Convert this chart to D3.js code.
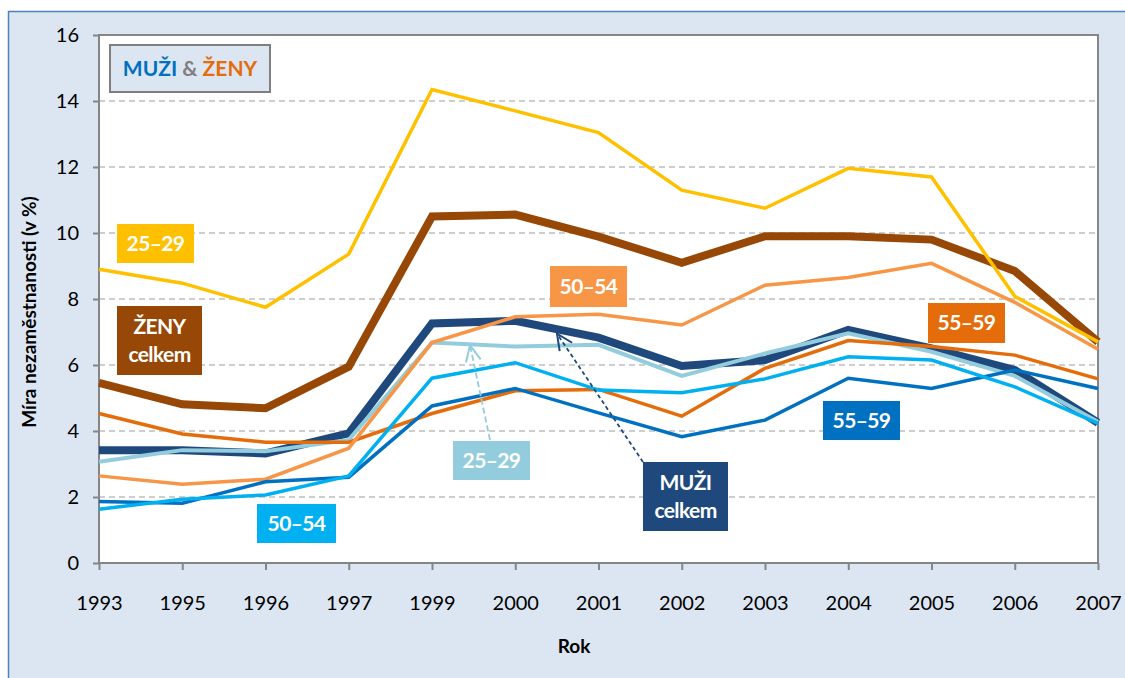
<!DOCTYPE html>
<html lang="cs">
<head>
<meta charset="utf-8">
<title>Míra nezaměstnanosti</title>
<script src="https://d3js.org/d3.v7.min.js"></script>
<style>
  body { margin: 0; background: #fff; }
  svg text { font-family: Lato, "Open Sans", sans-serif; }
  .grid line { stroke: #bfbfbf; stroke-width: 1.5px; stroke-dasharray: 6,4; }
  .axis path, .axis line { stroke: #868686; stroke-width: 2px; }
  .axis text { font-size: 20px; fill: #000; }
  .lbl text { fill: #fff; font-weight: bold; font-size: 21px; letter-spacing: -0.6px; }
</style>
</head>
<body>
<div id="chart"></div>
<script>
var years = ["1993","1995","1996","1997","1999","2000","2001","2002","2003","2004","2005","2006","2007"];
var yTicks = [0, 2, 4, 6, 8, 10, 12, 14, 16];

var zenyCelkem = [5.46, 4.81, 4.69, 5.95, 10.5, 10.56, 9.89, 9.1, 9.9, 9.9, 9.8, 8.85, 6.7];
var zeny2529   = [8.9, 8.48, 7.75, 9.36, 14.35, 13.7, 13.04, 11.3, 10.75, 11.96, 11.7, 8.08, 6.7];
var zeny5054   = [2.64, 2.39, 2.54, 3.48, 6.68, 7.46, 7.54, 7.21, 8.42, 8.65, 9.08, 7.9, 6.48];
var zeny5559   = [4.53, 3.91, 3.66, 3.66, 4.53, 5.22, 5.26, 4.45, 5.9, 6.74, 6.56, 6.3, 5.58];
var muziCelkem = [3.42, 3.42, 3.32, 3.93, 7.26, 7.34, 6.83, 5.97, 6.15, 7.06, 6.5, 5.85, 4.25];
var muzi2529   = [3.07, 3.42, 3.39, 3.73, 6.68, 6.56, 6.61, 5.67, 6.35, 6.96, 6.4, 5.67, 4.28];
var muzi5054   = [1.63, 1.93, 2.06, 2.64, 5.6, 6.07, 5.24, 5.16, 5.58, 6.25, 6.15, 5.34, 4.23];
var muzi5559   = [1.86, 1.81, 2.46, 2.6, 4.76, 5.29, 4.55, 3.83, 4.33, 5.6, 5.29, 5.85, 5.29];

// draw order: first = bottom
var series = [
  { vals: zenyCelkem, color: "#974706", w: 8 },
  { vals: muziCelkem, color: "#1f497d", w: 8 },
  { vals: muzi2529,   color: "#93cddd", w: 4 },
  { vals: zeny5559,   color: "#e46c0a", w: 3.5 },
  { vals: zeny5054,   color: "#f79646", w: 3.5 },
  { vals: muzi5559,   color: "#0070c0", w: 3.5 },
  { vals: muzi5054,   color: "#00b0f0", w: 3.5 },
  { vals: zeny2529,   color: "#ffc000", w: 3.5 }
];

var width = 1125, height = 678;
var x0 = 99, x1 = 1098, yTop = 35, yBot = 563;

var svg = d3.select("#chart").append("svg")
    .attr("width", width).attr("height", height);

var defs = svg.append("defs");
function marker(id, color) {
  defs.append("marker")
      .attr("id", id).attr("viewBox", "0 0 18 18")
      .attr("refX", 17).attr("refY", 9)
      .attr("markerWidth", 18).attr("markerHeight", 18)
      .attr("markerUnits", "userSpaceOnUse")
      .attr("orient", "auto")
    .append("path")
      .attr("d", "M1,1.5 L17,9 L1,16.5")
      .attr("fill", "none").attr("stroke", color).attr("stroke-width", 2);
}
marker("arrLight", "#93cddd");
marker("arrDark", "#1f497d");

// outer frame
svg.append("rect")
    .attr("x", 8.5).attr("y", 11.5)
    .attr("width", width).attr("height", height)
    .attr("fill", "#dce6f2").attr("stroke", "#4f81bd").attr("stroke-width", 1.5);

var x = d3.scalePoint().domain(years).range([x0, x1]);
var y = d3.scaleLinear().domain([0, 16]).range([yBot, yTop]);

svg.append("rect")
    .attr("x", x0).attr("y", yTop)
    .attr("width", x1 - x0).attr("height", yBot - yTop)
    .attr("fill", "#fff").attr("stroke", "#868686").attr("stroke-width", 2);

svg.append("g").attr("class", "grid")
  .selectAll("line").data(yTicks.filter(function(d) { return d > 0 && d < 16; }))
  .enter().append("line")
    .attr("x1", x0).attr("x2", x1)
    .attr("y1", function(d) { return y(d); })
    .attr("y2", function(d) { return y(d); });

var yAxis = svg.append("g").attr("class", "axis")
    .attr("transform", "translate(" + x0 + ",0)")
    .call(d3.axisLeft(y).tickValues(yTicks).tickSize(6).tickPadding(14));
yAxis.select(".domain").remove();
yAxis.append("line").attr("x1", 0).attr("x2", 0).attr("y1", yTop).attr("y2", yBot);

var xAxis = svg.append("g").attr("class", "axis")
    .attr("transform", "translate(0," + yBot + ")")
    .call(d3.axisBottom(x).tickSize(7).tickPadding(26));
xAxis.select(".domain").remove();
xAxis.append("line").attr("x1", x0).attr("x2", x1).attr("y1", 0).attr("y2", 0);

svg.append("text")
    .attr("transform", "translate(36,312) rotate(-90)")
    .attr("text-anchor", "middle")
    .attr("font-size", 19).attr("font-weight", "bold")
    .text("Míra nezaměstnanosti (v %)");

svg.append("text")
    .attr("x", 574).attr("y", 653)
    .attr("text-anchor", "middle")
    .attr("font-size", 19).attr("font-weight", "bold")
    .text("Rok");

var line = d3.line()
    .x(function(d, i) { return x(years[i]); })
    .y(function(d) { return y(d); });

svg.append("g").selectAll("path").data(series).enter().append("path")
    .attr("d", function(d) { return line(d.vals); })
    .attr("fill", "none")
    .attr("stroke", function(d) { return d.color; })
    .attr("stroke-width", function(d) { return d.w; })
    .attr("stroke-linejoin", "miter");

// dashed pointers
svg.append("line")
    .attr("x1", 490).attr("y1", 440)
    .attr("x2", 470).attr("y2", y(6.6))
    .attr("stroke", "#93cddd").attr("stroke-width", 1.8)
    .attr("stroke-dasharray", "6,3").attr("marker-end", "url(#arrLight)");
svg.append("line")
    .attr("x1", 643).attr("y1", 462)
    .attr("x2", 557).attr("y2", y(6.95))
    .attr("stroke", "#1f497d").attr("stroke-width", 1.8)
    .attr("stroke-dasharray", "4,3").attr("marker-end", "url(#arrDark)");

// label boxes
var labels = [
  { x: 117, y: 224, w: 77, h: 39, fill: "#ffc000", lines: ["25–29"] },
  { x: 117, y: 306, w: 85, h: 69, fill: "#974706", lines: ["ŽENY", "celkem"] },
  { x: 257, y: 504, w: 79, h: 39, fill: "#00b0f0", lines: ["50–54"] },
  { x: 550, y: 266, w: 77, h: 41, fill: "#f79646", lines: ["50–54"] },
  { x: 453, y: 441, w: 77, h: 39, fill: "#93cddd", lines: ["25–29"] },
  { x: 643, y: 462, w: 85, h: 69, fill: "#1f497d", lines: ["MUŽI", "celkem"] },
  { x: 928, y: 303, w: 77, h: 40, fill: "#e46c0a", lines: ["55–59"] },
  { x: 823, y: 401, w: 77, h: 39, fill: "#0070c0", lines: ["55–59"] }
];

var lg = svg.append("g").attr("class", "lbl").selectAll("g").data(labels).enter().append("g");
lg.append("rect")
    .attr("x", function(d) { return d.x; }).attr("y", function(d) { return d.y; })
    .attr("width", function(d) { return d.w; }).attr("height", function(d) { return d.h; })
    .attr("fill", function(d) { return d.fill; });
lg.each(function(d) {
  var g = d3.select(this);
  var n = d.lines.length;
  d.lines.forEach(function(t, i) {
    g.append("text")
        .attr("x", d.x + d.w / 2)
        .attr("y", d.y + d.h / 2 + (i - (n - 1) / 2) * 28 + 7)
        .attr("text-anchor", "middle")
        .text(t);
  });
});

// legend box
svg.append("rect")
    .attr("x", 110).attr("y", 45)
    .attr("width", 160).attr("height", 47)
    .attr("fill", "#dce6f2").attr("stroke", "#7f7f7f").attr("stroke-width", 2);
var lt = svg.append("text")
    .attr("x", 190).attr("y", 76)
    .attr("text-anchor", "middle")
    .attr("font-size", 21).attr("font-weight", "bold");
lt.append("tspan").attr("fill", "#0070c0").text("MUŽI");
lt.append("tspan").attr("fill", "#808080").text(" & ");
lt.append("tspan").attr("fill", "#e46c0a").text("ŽENY");
</script>
</body>
</html>
